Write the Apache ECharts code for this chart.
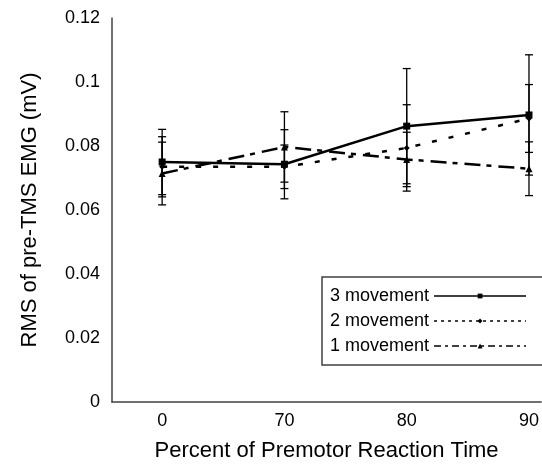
<!DOCTYPE html>
<html>
<head>
<meta charset="utf-8">
<script src="https://cdn.jsdelivr.net/npm/echarts@6/dist/echarts.min.js"></script>
<style>
  html, body { margin: 0; padding: 0; background: #fff; }
  #chartLine { width: 542px; height: 467px; }
</style>
</head>
<body>
<div id="chartLine"></div>
<script>
// x categories (percent of premotor reaction time)
const categories = ["0", "70", "80", "90"];

// mean RMS values (mV) and error bar half-lengths
const move3 = [0.075, 0.0743, 0.0862, 0.0897];
const move3Err = [0.0102, 0.0108, 0.018, 0.0188];
const move2 = [0.0735, 0.0735, 0.0794, 0.0886];
const move2Err = [0.0094, 0.0068, 0.0135, 0.0106];
const move1 = [0.0714, 0.0797, 0.0758, 0.0729];
const move1Err = [0.0098, 0.011, 0.0085, 0.0084];

const font = "Liberation Sans, Arial, sans-serif";

// error bars drawn with a custom series: vertical line + two caps
function errorBars(name, vals, errs) {
  return {
    type: "custom",
    name: name + " err",
    z: 1,
    silent: true,
    data: vals.map((v, i) => [i, v - errs[i], v + errs[i]]),
    encode: { x: 0, y: [1, 2] },
    renderItem: function (params, api) {
      const lo = api.coord([api.value(0), api.value(1)]);
      const hi = api.coord([api.value(0), api.value(2)]);
      const w = 4;
      const style = { stroke: "#000", lineWidth: 1.3 };
      return {
        type: "group",
        children: [
          { type: "line", shape: { x1: hi[0], y1: hi[1], x2: lo[0], y2: lo[1] }, style: style },
          { type: "line", shape: { x1: hi[0] - w, y1: hi[1], x2: hi[0] + w, y2: hi[1] }, style: style },
          { type: "line", shape: { x1: lo[0] - w, y1: lo[1], x2: lo[0] + w, y2: lo[1] }, style: style },
        ],
      };
    },
  };
}

function toPoints(vals) {
  return vals.map((v, i) => [i, v]);
}

const option = {
  animation: false,
  backgroundColor: "#fff",
  textStyle: { fontFamily: font, color: "#000" },
  grid: { left: 112, right: 0, top: 18, bottom: 59, containLabel: false },
  legend: {
    orient: "vertical",
    left: 322,
    top: 277,
    align: "right",
    padding: [10, 40, 10, 8],
    itemGap: 7,
    itemWidth: 92,
    itemHeight: 6,
    borderColor: "#404040",
    borderWidth: 1.5,
    textStyle: { fontSize: 18, color: "#000", fontFamily: font, width: 110 },
    data: [
      { name: "3 movement", lineStyle: { width: 1.5 } },
      { name: "2 movement", lineStyle: { width: 1.5, type: [3, 4] } },
      { name: "1 movement", lineStyle: { width: 1.5, type: [7, 4, 3, 4] } },
    ],
  },
  xAxis: {
    type: "value",
    min: -0.41,
    max: 3.1,
    name: "Percent of Premotor Reaction Time",
    nameLocation: "middle",
    nameGap: 38,
    nameTextStyle: { fontSize: 22, color: "#000", fontFamily: font },
    axisLine: { show: true, onZero: false, lineStyle: { color: "#404040", width: 1.5 } },
    axisTick: { show: false },
    splitLine: { show: false },
    axisLabel: {
      customValues: [0, 1, 2, 3],
      formatter: (v) => categories[v],
      fontSize: 18,
      color: "#000",
      margin: 10,
    },
  },
  yAxis: {
    type: "value",
    min: 0,
    max: 0.12,
    interval: 0.02,
    name: "RMS of pre-TMS EMG (mV)",
    nameLocation: "middle",
    nameGap: 71,
    nameTextStyle: { fontSize: 22, color: "#000", fontFamily: font },
    axisLine: { show: true, onZero: false, lineStyle: { color: "#404040", width: 1.5 } },
    axisTick: { show: false },
    splitLine: { show: false },
    axisLabel: { fontSize: 18, color: "#000", margin: 12 },
  },
  series: [
    errorBars("3 movement", move3, move3Err),
    errorBars("2 movement", move2, move2Err),
    errorBars("1 movement", move1, move1Err),
    {
      name: "3 movement",
      type: "line",
      z: 3,
      data: toPoints(move3),
      symbol: "rect",
      symbolSize: 7,
      itemStyle: { color: "#000" },
      lineStyle: { color: "#000", width: 2.5 },
    },
    {
      name: "2 movement",
      type: "line",
      z: 3,
      data: toPoints(move2),
      symbol: "diamond",
      symbolSize: 6,
      itemStyle: { color: "#000" },
      lineStyle: { color: "#000", width: 2.5, type: [5, 12] },
    },
    {
      name: "1 movement",
      type: "line",
      z: 3,
      data: toPoints(move1),
      symbol: "triangle",
      symbolSize: 7,
      itemStyle: { color: "#000" },
      lineStyle: { color: "#000", width: 2.5, type: [16, 6, 5, 7] },
    },
  ],
};

const myChart = echarts.init(document.getElementById("chartLine"));
myChart.setOption(option);
</script>
</body>
</html>
